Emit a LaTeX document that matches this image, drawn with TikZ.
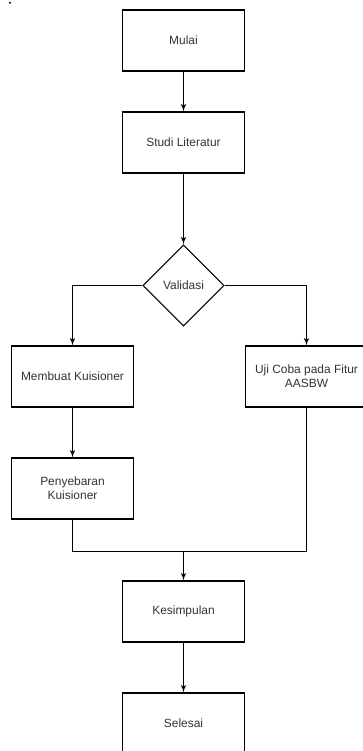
\documentclass[tikz,border=0pt]{standalone}
\usepackage{fontspec}
\setmainfont{Liberation Sans}
\usepackage{xcolor}
\usepackage{tikz}
\usetikzlibrary{arrows}
\usetikzlibrary{shapes.geometric}
\tikzset{>=latex'}
\definecolor{textgrey}{HTML}{333333}

\begin{document}
\begin{tikzpicture}[font=\fontsize{8.5}{10}\selectfont,
	langkah/.style={draw,thick,minimum width=30.5mm,minimum height=15.25mm,align=center,text=textgrey},
	putusan/.style={draw,thick,diamond,aspect=1,minimum width=20.3mm,minimum height=20.3mm,inner sep=0pt,text=textgrey},
	panah/.style={->,thick}]
	\useasboundingbox (0,0) rectangle (9.075,-18.775);
	\clip (0,0) rectangle (9.075,-18.775);
	\fill (0.25,-0.07) circle (0.03);
	\node[langkah] (mulai) at (4.5875,-1.0125) {Mulai};
	\node[langkah] (studi) at (4.5875,-3.5625) {Studi Literatur};
	\node[putusan] (validasi) at (4.5875,-7.1375) {Validasi};
	\node[langkah] (membuat) at (1.8125,-9.4125) {Membuat Kuisioner};
	\node[langkah] (uji) at (7.6625,-9.4125) {Uji Coba pada Fitur\\AASBW};
	\node[langkah] (sebar) at (1.8125,-12.2125) {Penyebaran\\Kuisioner};
	\node[langkah] (simpul) at (4.5875,-15.2875) {Kesimpulan};
	\node[langkah] (selesai) at (4.5875,-18.0875) {Selesai};
	\coordinate (gabung) at (4.5875,-13.7875);
	\draw[panah] (mulai)--(studi);
	\draw[panah] (studi)--(validasi);
	\draw[panah] (validasi.west)-|(membuat);
	\draw[panah] (validasi.east)-|(uji);
	\draw[panah] (membuat)--(sebar);
	\draw[thick] (sebar)|-(gabung);
	\draw[thick] (uji)|-(gabung);
	\draw[panah] (gabung)--(simpul);
	\draw[panah] (simpul)--(selesai);
\end{tikzpicture}
\end{document}
